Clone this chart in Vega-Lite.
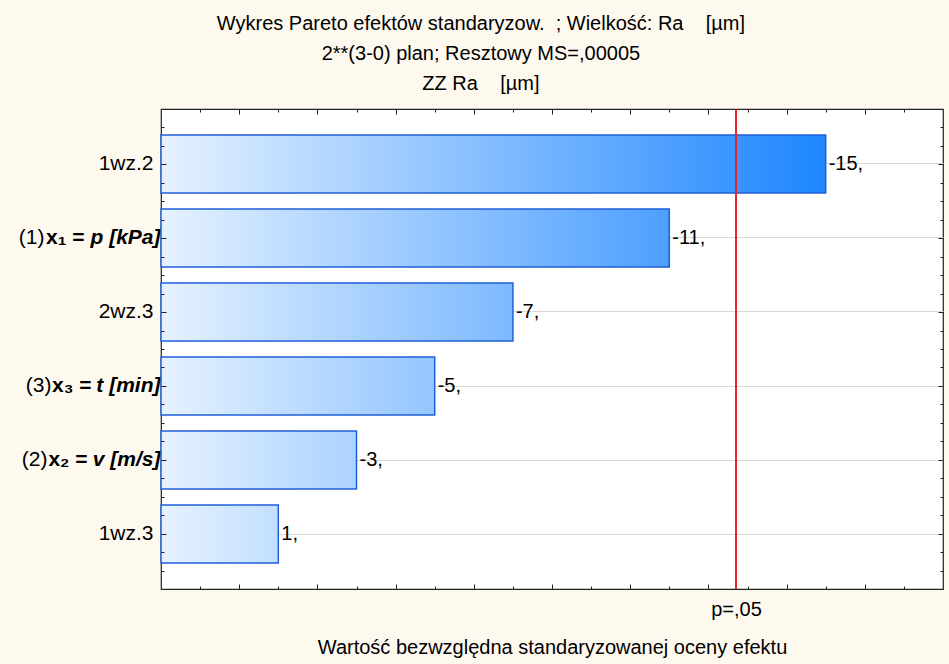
{
  "$schema": "https://vega.github.io/schema/vega-lite/v6.json",
  "width": 782,
  "height": 480,
  "autosize": "none",
  "padding": {"left": 161, "top": 109, "right": 6, "bottom": 75},
  "background": "#FEF9EF",
  "config": {
    "view": {"fill": "white", "stroke": "#222222", "strokeWidth": 1.2},
    "font": "Liberation Sans",
    "axis": {"labelColor": "black", "titleColor": "black", "tickColor": "#222222", "labelFont": "Liberation Sans", "titleFont": "Liberation Sans"}
  },
  "title": {
    "text": ["Wykres Pareto efektów standaryzow.\u00a0 ; Wielkość: Ra\u00a0\u00a0\u00a0 [µm]", "2**(3-0) plan; Resztowy MS=,00005", "ZZ Ra\u00a0\u00a0\u00a0 [µm]"],
    "fontSize": 20,
    "fontWeight": "normal",
    "font": "Liberation Sans",
    "lineHeight": 30,
    "frame": "bounds",
    "anchor": "middle",
    "offset": 14,
    "color": "black"
  },
  "data": {
    "values": [
      {"efekt": "1wz.2", "t_abs": 15, "etykieta": "-15,"},
      {"efekt": "(1)x₁ = p [kPa]", "t_abs": 11, "etykieta": "-11,"},
      {"efekt": "2wz.3", "t_abs": 7, "etykieta": "-7,"},
      {"efekt": "(3)x₃ = t [min]", "t_abs": 5, "etykieta": "-5,"},
      {"efekt": "(2)x₂ = v [m/s]", "t_abs": 3, "etykieta": "-3,"},
      {"efekt": "1wz.3", "t_abs": 1, "etykieta": "1,"}
    ]
  },
  "layer": [
    {
      "layer": [
        {
          "mark": {
            "type": "bar",
            "stroke": "#1F5FD6",
            "strokeWidth": 1.5,
            "fill": {"expr": "{gradient: 'linear', x1: 0, y1: 0, x2: 17 / (datum.t_abs + 2), y2: 0, stops: [{offset: 0, color: '#E6F2FF'}, {offset: 1, color: '#1E86FF'}]}"}
          },
          "encoding": {
            "y": {
              "field": "efekt", "type": "nominal", "sort": null,
              "scale": {"type": "band", "paddingInner": 0.216, "paddingOuter": 0.351},
              "axis": {
                "orient": "left",
                "title": null, "ticks": false, "domain": false, "grid": true,
                "gridColor": "#D9D9D9", "gridWidth": 1,
                "labelFontSize": 21, "labelLimit": 0,
                "labelExpr": "indexof(datum.label, ')') == 2 ? substring(datum.label, 8) : datum.label",
                "labelPadding": {"condition": {"test": "indexof(datum.value, '=') >= 0", "value": 1}, "value": 8},
                "labelFontWeight": {"condition": {"test": "indexof(datum.value, '=') >= 0", "value": "bold"}, "value": "normal"},
                "labelFontStyle": {"condition": {"test": "indexof(datum.value, '=') >= 0", "value": "italic"}, "value": "normal"}
              }
            },
            "x": {
              "field": "t_abs", "type": "quantitative",
              "scale": {"domain": [-2, 18], "nice": false, "zero": false},
              "axis": {
                "orient": "bottom",
                "values": [-1, 0, 1, 2, 3, 4, 5, 6, 7, 8, 9, 10, 11, 12, 13, 14, 15, 16, 17, 12.706],
                "labelExpr": "datum.value > 12.7 && datum.value < 12.71 ? 'p=,05' : ''",
                "tickSize": {"condition": [{"test": "datum.value > 12.7 && datum.value < 12.71", "value": 0}, {"test": "datum.value % 2 == 0", "value": -5}], "value": -3},
                "labelPadding": 10,
                "labelFontSize": 20,
                "labelOverlap": false,
                "labelFlush": false,
                "domain": false,
                "grid": false,
                "title": "Wartość bezwzględna standaryzowanej oceny efektu",
                "titleFontSize": 20,
                "titleFontWeight": "normal",
                "titlePadding": 18,
                "zindex": 1
              }
            },
            "x2": {"datum": -2}
          }
        },
        {
          "mark": {"type": "rule", "color": "#E5262A", "strokeWidth": 1.2},
          "encoding": {
            "x": {
              "datum": 12.706, "type": "quantitative",
              "axis": {
                "orient": "top", "title": null, "labels": false, "domain": false, "grid": false, "zindex": 1,
                "values": [-1, 0, 1, 2, 3, 4, 5, 6, 7, 8, 9, 10, 11, 12, 13, 14, 15, 16, 17],
                "tickSize": {"condition": {"test": "datum.value % 2 == 0", "value": -5}, "value": -3}
              }
            }
          }
        },
        {
          "mark": {"type": "text", "align": "left", "baseline": "middle", "dx": 3, "fontSize": 20, "color": "black"},
          "encoding": {
            "y": {
              "field": "efekt", "type": "nominal", "sort": null,
              "scale": {"type": "band", "paddingInner": 0.216, "paddingOuter": 0.351},
              "axis": {
                "orient": "left",
                "title": null, "ticks": false, "domain": false, "grid": false,
                "labelFontSize": 21, "labelLimit": 0,
                "labelExpr": "indexof(datum.label, ')') == 2 ? substring(datum.label, 0, 3) : ''",
                "labelPadding": {"condition": [
                  {"test": "indexof(datum.value, '(1)') == 0", "value": 117},
                  {"test": "indexof(datum.value, '(3)') == 0", "value": 110}
                ], "value": 114}
              }
            },
            "x": {"field": "t_abs", "type": "quantitative", "axis": null},
            "text": {"field": "etykieta"}
          }
        },
        {
          "mark": {"type": "point", "opacity": 0},
          "encoding": {
            "y": {
              "field": "efekt", "type": "nominal", "sort": null,
              "scale": {"type": "band", "paddingInner": 0.216, "paddingOuter": 0.351},
              "axis": {
                "orient": "left",
                "title": null, "ticks": false, "domain": false, "grid": false,
                "labelFontSize": 21, "labelLimit": 0, "labelFontWeight": "bold",
                "labelExpr": "indexof(datum.label, ')') == 2 ? substring(datum.label, 3, 7) : ''",
                "labelPadding": {"condition": [
                  {"test": "indexof(datum.value, '(1)') == 0", "value": 77},
                  {"test": "indexof(datum.value, '(3)') == 0", "value": 70}
                ], "value": 74}
              }
            }
          }
        }
      ],
      "resolve": {"axis": {"y": "independent", "x": "independent"}}
    },
    {
      "mark": {"type": "point", "opacity": 0},
      "encoding": {
        "y": {
          "datum": 1, "type": "quantitative",
          "scale": {"domain": [0.25, 6.75], "reverse": true, "nice": false, "zero": false},
          "axis": {
            "orient": "left", "title": null, "labels": false, "domain": false, "grid": false, "zindex": 1,
            "values": [0.5, 0.75, 1, 1.25, 1.5, 1.75, 2, 2.25, 2.5, 2.75, 3, 3.25, 3.5, 3.75, 4, 4.25, 4.5, 4.75, 5, 5.25, 5.5, 5.75, 6, 6.25, 6.5],
            "tickSize": {"condition": {"test": "datum.value % 1 == 0", "value": -5}, "value": -3}
          }
        }
      }
    },
    {
      "mark": {"type": "point", "opacity": 0},
      "encoding": {
        "y": {
          "datum": 1, "type": "quantitative",
          "scale": {"domain": [0.25, 6.75], "reverse": true, "nice": false, "zero": false},
          "axis": {
            "orient": "right", "title": null, "labels": false, "domain": false, "grid": false, "zindex": 1,
            "values": [0.5, 0.75, 1, 1.25, 1.5, 1.75, 2, 2.25, 2.5, 2.75, 3, 3.25, 3.5, 3.75, 4, 4.25, 4.5, 4.75, 5, 5.25, 5.5, 5.75, 6, 6.25, 6.5],
            "tickSize": {"condition": {"test": "datum.value % 1 == 0", "value": -5}, "value": -3}
          }
        }
      }
    }
  ],
  "resolve": {"scale": {"y": "independent"}}
}
